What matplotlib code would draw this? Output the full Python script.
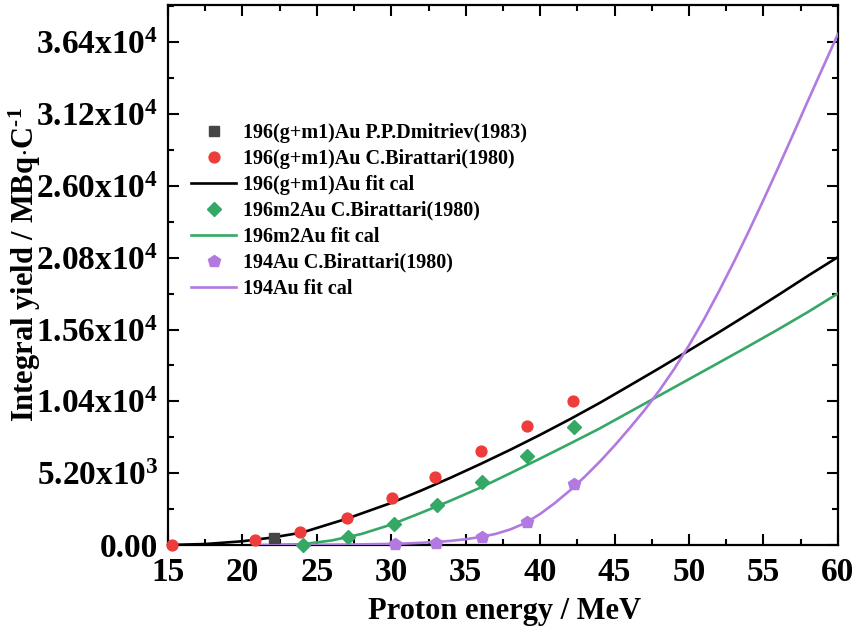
import numpy as np
import matplotlib
matplotlib.use("Agg")
import matplotlib.pyplot as plt
from matplotlib.ticker import MultipleLocator, FixedLocator

plt.rcParams['font.family'] = ['Liberation Serif', 'DejaVu Serif']
plt.rcParams['font.weight'] = 'bold'
plt.rcParams['mathtext.fontset'] = 'custom'
plt.rcParams['mathtext.rm'] = 'Liberation Serif:bold'
plt.rcParams['mathtext.bf'] = 'Liberation Serif:bold'
plt.rcParams['mathtext.it'] = 'Liberation Serif:bold'

# measured points
dmit_e = [22.1]
dmit_y = [540]

gm_e = [15.25, 20.85, 23.9, 27.0, 30.07, 32.94, 36.0, 39.1, 42.2]
gm_y = [0, 362, 962, 1976, 3378, 4945, 6802, 8611, 10450]

m2_e = [24.05, 27.1, 30.2, 33.06, 36.08, 39.1, 42.24]
m2_y = [0, 557, 1520, 2894, 4580, 6462, 8560]

au194_e = [30.25, 33.0, 36.08, 39.1, 42.3]
au194_y = [60, 170, 600, 1686, 4414]

# fit curves
gm_fit_e = [15, 17.5, 20, 22, 24, 27, 30, 32, 34, 36, 38, 40, 42, 44, 46,
            48, 50, 52, 54, 56, 58, 60]
gm_fit_y = [0, 70, 270, 540, 900, 1900, 3050, 3940, 4880, 5870, 6900, 7980,
            9110, 10290, 11540, 12800, 14090, 15400, 16740, 18110, 19500, 20850]

m2_fit_e = [22, 24, 26, 28, 30, 32, 34, 36, 38, 40, 42, 44, 46, 48, 50, 52,
            54, 56, 58, 60]
m2_fit_y = [0, 50, 330, 800, 1480, 2330, 3220, 4160, 5200, 6260, 7340, 8440,
            9630, 10820, 12010, 13200, 14400, 15620, 16880, 18210]

au194_fit_e = [21, 24, 27, 30, 31, 32, 33, 34, 35, 36, 37, 38, 39, 40, 41, 42,
               43, 44, 45, 46, 47, 48, 49, 50, 51, 52, 53, 54, 55, 56, 57, 58,
               59, 60]
au194_fit_y = [0, 10, 30, 80, 110, 160, 220, 300, 420, 580, 800, 1130, 1590,
               2250, 3050, 3950, 4950, 6030, 7200, 8450, 9750, 11180, 12740,
               14460, 16330, 18350, 20470, 22690, 24990, 27350, 29760, 32200,
               34600, 37000]

yticks = [0, 5200, 10400, 15600, 20800, 26000, 31200, 36400]
ytick_labels = ['0.00', r'5.20x10$^{3}$', r'1.04x10$^{4}$', r'1.56x10$^{4}$',
                r'2.08x10$^{4}$', r'2.60x10$^{4}$', r'3.12x10$^{4}$',
                r'3.64x10$^{4}$']

c_red = '#ee3b3b'
c_green = '#34a864'
c_purple = '#b27ae0'
c_gray = '#464646'

fig = plt.figure(figsize=(8.55, 6.31), dpi=100)
ax = fig.add_axes([0.1965, 0.1363, 0.7835, 0.8557])

lw = 1.9
ax.plot(gm_fit_e, gm_fit_y, color='black', lw=lw, label='196(g+m1)Au fit cal', zorder=3)
ax.plot(m2_fit_e, m2_fit_y, color=c_green, lw=lw, label='196m2Au fit cal', zorder=3)
ax.plot(au194_fit_e, au194_fit_y, color=c_purple, lw=lw, label='194Au fit cal', zorder=3)

ax.plot(dmit_e, dmit_y, 's', color=c_gray, ms=6.5, ls='none', clip_on=False, zorder=4,
        label='196(g+m1)Au P.P.Dmitriev(1983)')
ax.plot(gm_e, gm_y, 'o', color=c_red, ms=7.8, ls='none', clip_on=False, zorder=4,
        label='196(g+m1)Au C.Birattari(1980)')
ax.plot(m2_e, m2_y, 'D', color=c_green, ms=6.8, ls='none', clip_on=False, zorder=4,
        label='196m2Au C.Birattari(1980)')
ax.plot(au194_e, au194_y, 'p', color=c_purple, ms=9, ls='none', clip_on=False, zorder=4,
        label='194Au C.Birattari(1980)')

ax.set_xlim(15, 60)
ax.set_ylim(0, 39100)
ax.xaxis.set_major_locator(MultipleLocator(5))
ax.xaxis.set_minor_locator(MultipleLocator(2.5))
ax.yaxis.set_major_locator(FixedLocator(yticks))
ax.yaxis.set_minor_locator(MultipleLocator(2600))
ax.set_yticklabels(ytick_labels)

ax.tick_params(which='both', direction='in', top=True, right=True, width=1.5,
               labelsize=24)
ax.tick_params(axis='x', pad=9)
ax.tick_params(axis='y', pad=7)
ax.tick_params(which='major', length=8)
ax.tick_params(which='minor', length=4.5)
for s in ax.spines.values():
    s.set_linewidth(1.6)

ax.set_xlabel('Proton energy / MeV', fontsize=22, fontweight='bold')
ax.set_ylabel(r'Integral yield / MBq$\cdot$C$^{\text{-1}}$', fontsize=22,
              fontweight='bold')
ax.xaxis.set_label_coords(0.503, -0.097)
ax.yaxis.set_label_coords(-0.187, 0.52)

handles, labels = ax.get_legend_handles_labels()
order = [3, 4, 0, 5, 1, 6, 2]
ax.legend([handles[i] for i in order], [labels[i] for i in order],
          loc='upper left', bbox_to_anchor=(0.035, 0.782), frameon=False,
          fontsize=14.5, handlelength=2.2, handletextpad=0.35, labelspacing=0.3,
          borderaxespad=0, borderpad=0)

plt.savefig('out.png', dpi=100)
